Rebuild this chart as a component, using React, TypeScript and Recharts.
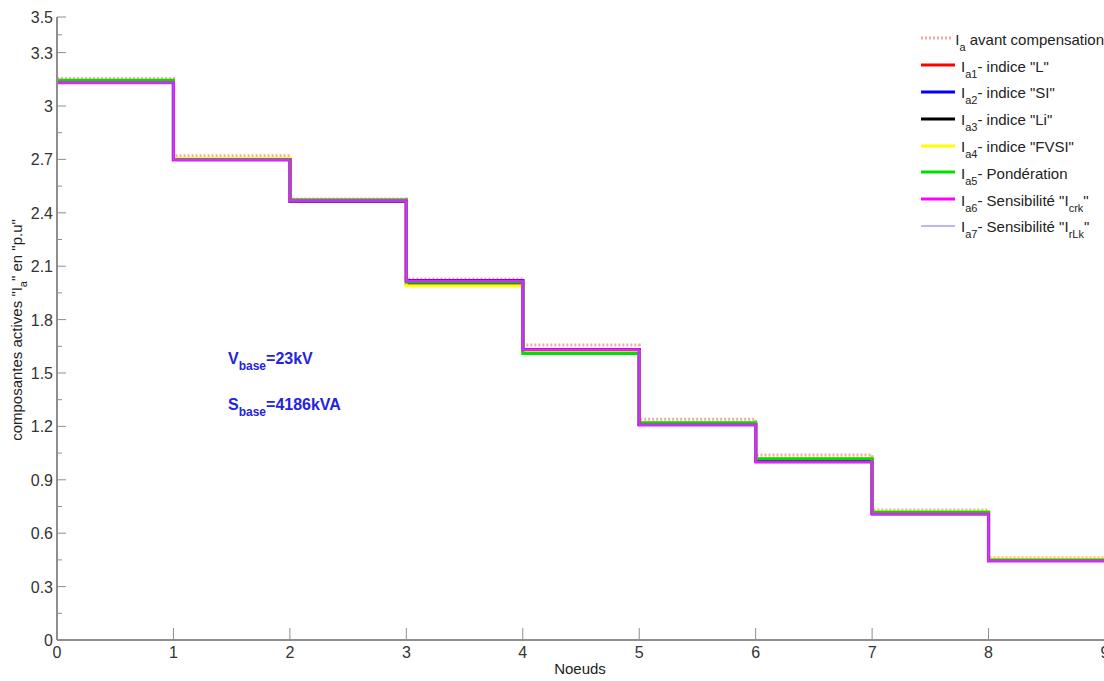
import React from 'react';
import { LineChart, Line, XAxis, YAxis, Legend, Customized } from 'recharts';

const nodes = [0, 1, 2, 3, 4, 5, 6, 7, 8, 9];
// one value per segment [k, k+1]
const avant = [3.155, 2.72, 2.478, 2.028, 1.657, 1.24, 1.04, 0.73, 0.462];
const ia1 = [3.14, 2.7, 2.47, 2.02, 1.63, 1.21, 1.01, 0.715, 0.45];
const ia2 = [3.14, 2.7, 2.47, 2.02, 1.63, 1.21, 1.01, 0.712, 0.448];
const ia3 = [3.14, 2.7, 2.465, 2.0, 1.625, 1.215, 1.015, 0.717, 0.45];
const ia4 = [3.145, 2.705, 2.47, 1.99, 1.62, 1.22, 1.02, 0.72, 0.455];
const ia5 = [3.145, 2.7, 2.47, 2.01, 1.61, 1.22, 1.018, 0.717, 0.45];
const ia6 = [3.13, 2.697, 2.466, 2.017, 1.63, 1.208, 1.0, 0.706, 0.444];
const ia7 = [3.13, 2.697, 2.466, 2.017, 1.63, 1.208, 1.0, 0.706, 0.444];

const yMajor = [0, 0.3, 0.6, 0.9, 1.2, 1.5, 1.8, 2.1, 2.4, 2.7, 3, 3.3, 3.5];
const yMinor = [0.15, 0.45, 0.75, 1.05, 1.35, 1.65, 1.95, 2.25, 2.55, 2.85, 3.15, 3.4];
const yTicks = [...yMajor, ...yMinor].sort((a, b) => a - b);

const at = (arr: number[], i: number) => arr[Math.min(i, arr.length - 1)];
const data = nodes.map((x, i) => ({
  x,
  avant: at(avant, i),
  ia1: at(ia1, i),
  ia2: at(ia2, i),
  ia3: at(ia3, i),
  ia4: at(ia4, i),
  ia5: at(ia5, i),
  ia6: at(ia6, i),
  ia7: at(ia7, i),
}));

const sans = "'Liberation Sans', Arial, sans-serif";
const axisGray = '#8e8e8e';

const series = [
  { key: 'avant', color: '#f5aaaa', width: 3, dash: '2 2', sub: 'a', text: ' avant compensation' },
  { key: 'ia1', color: '#ff0000', width: 3, sub: 'a1', text: '- indice "L"' },
  { key: 'ia2', color: '#0000ff', width: 3, sub: 'a2', text: '- indice "SI"' },
  { key: 'ia3', color: '#000000', width: 3, sub: 'a3', text: '- indice "Li"' },
  { key: 'ia4', color: '#ffff00', width: 3, sub: 'a4', text: '- indice "FVSI"' },
  { key: 'ia5', color: '#00e000', width: 3, sub: 'a5', text: '- Pondération' },
  { key: 'ia6', color: '#ff00ff', width: 3, sub: 'a6', text: '- Sensibilité "I', sub2: 'crk', tail: '"' },
  { key: 'ia7', color: '#7b6cf0', width: 1, sub: 'a7', text: '- Sensibilité "I', sub2: 'rLk', tail: '"' },
];

const YTick = (props: any) => {
  const { x, y, payload } = props;
  const major = yMajor.includes(payload.value);
  return (
    <g>
      <line x1={x} x2={x + (major ? 9 : 5)} y1={y} y2={y} stroke={axisGray} strokeWidth={1} />
      {major && (
        <text x={x - 4} y={y + 6} textAnchor="end" fontSize={16} fontFamily={sans} fill="#333">
          {String(payload.value)}
        </text>
      )}
    </g>
  );
};

const XTick = (props: any) => {
  const { x, y, payload } = props;
  return (
    <g>
      <line x1={x} x2={x} y1={y} y2={y - 12} stroke={axisGray} strokeWidth={1} />
      <text x={x} y={y + 18} textAnchor="middle" fontSize={16} fontFamily={sans} fill="#333">
        {String(payload.value)}
      </text>
    </g>
  );
};

const subStyle: React.CSSProperties = { fontSize: 11, position: 'relative', top: 6 };

const LegendBox = () => (
  <div style={{ fontFamily: sans, fontSize: 15, color: '#222' }}>
    {series.map(s => (
      <div key={s.key} style={{ display: 'flex', alignItems: 'center', height: 26.8, whiteSpace: 'nowrap' }}>
        <svg width={36} height={8} style={{ marginRight: 4 }}>
          <line x1={0} x2={34} y1={4} y2={4} stroke={s.color} strokeWidth={s.width} strokeDasharray={s.dash} />
        </svg>
        <span style={{ position: 'relative', top: 1 }}>
          I<span style={subStyle}>{s.sub}</span>
          {s.text}
          {s.sub2 && <span style={subStyle}>{s.sub2}</span>}
          {s.tail}
        </span>
      </div>
    ))}
  </div>
);

const Decorations = () => (
  <g>
    <text
      transform="translate(22, 330) rotate(-90)"
      textAnchor="middle"
      fontSize={15}
      fontFamily={sans}
      fill="#222"
    >
      composantes actives "I<tspan fontSize={11} dy={5}>a</tspan>
      <tspan dy={-5}>" en "p.u"</tspan>
    </text>
    <text x={580} y={674} textAnchor="middle" fontSize={15} fontFamily={sans} fill="#222">
      Noeuds
    </text>
    <g fontFamily={sans} fontWeight="bold" fill="#2424dd" fontSize={16}>
      <text x={228} y={364}>
        V<tspan fontSize={12} dy={6}>base</tspan>
        <tspan dy={-6}>=23kV</tspan>
      </text>
      <text x={228} y={410}>
        S<tspan fontSize={12} dy={6}>base</tspan>
        <tspan dy={-6}>=4186kVA</tspan>
      </text>
    </g>
  </g>
);

export default function App() {
  return (
    <div style={{ position: 'absolute', left: 0, top: 0, width: 1104, height: 681, overflow: 'hidden', background: '#fff' }}>
      <LineChart width={1120} height={681} data={data} margin={{ top: 17, right: 15, left: 0, bottom: 0 }}>
        <XAxis
          type="number"
          dataKey="x"
          domain={[0, 9]}
          ticks={nodes}
          height={41}
          tickLine={false}
          tickSize={0}
          tickMargin={0}
          axisLine={{ stroke: axisGray, strokeWidth: 2 }}
          tick={<XTick />}
          allowDecimals={false}
        />
        <YAxis
          type="number"
          domain={[0, 3.5]}
          ticks={yTicks}
          width={57}
          tickLine={false}
          tickSize={0}
          tickMargin={0}
          axisLine={{ stroke: axisGray, strokeWidth: 2 }}
          tick={<YTick />}
          interval={0}
        />
        <Legend
          layout="vertical"
          verticalAlign="middle"
          align="center"
          content={<LegendBox />}
          wrapperStyle={{ position: 'absolute', left: 921, top: 25, width: 183 }}
        />
        {series.map(s => (
          <Line
            key={s.key}
            type="stepAfter"
            dataKey={s.key}
            stroke={s.color}
            strokeWidth={s.width}
            strokeDasharray={s.dash}
            dot={false}
            activeDot={false}
            isAnimationActive={false}
          />
        ))}
        <Customized component={Decorations} />
      </LineChart>
    </div>
  );
}
